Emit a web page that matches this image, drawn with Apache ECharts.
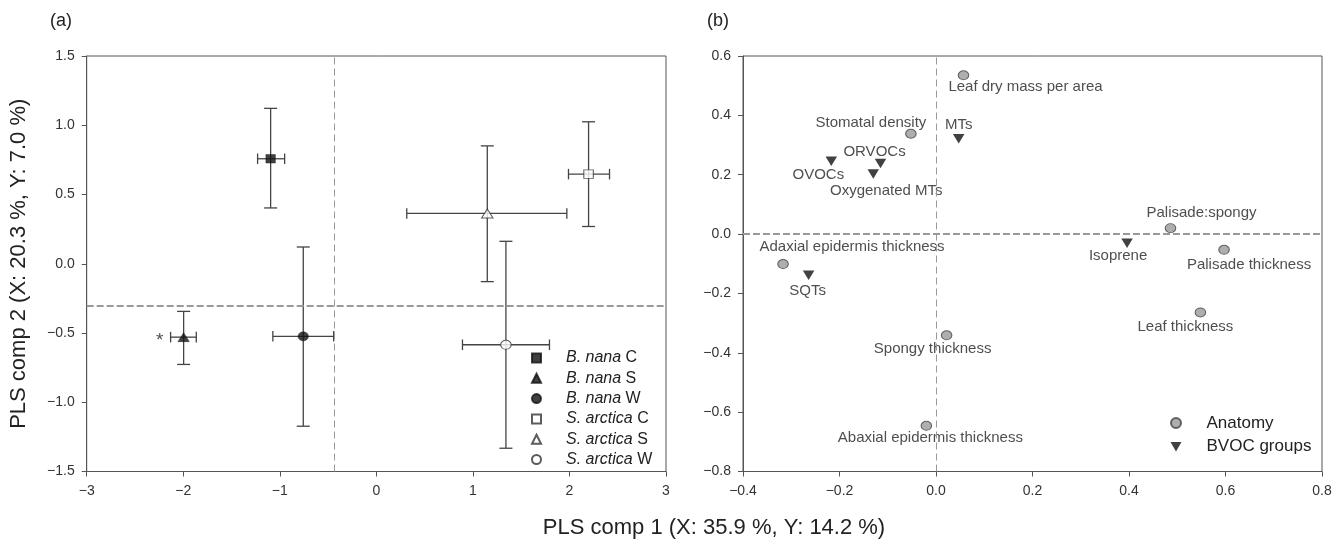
<!DOCTYPE html>
<html>
<head>
<meta charset="utf-8">
<script src="https://cdn.jsdelivr.net/npm/echarts@6/dist/echarts.min.js"></script>
<style>
  html, body { margin: 0; padding: 0; background: #fff; }
  #chart { width: 1335px; height: 542px; }
</style>
</head>
<body>
<div id="chart"></div>
<script>
// ---- panel (a): PLS scores per group, with error bars ----
const groupNames = ['B. nana C', 'B. nana S', 'B. nana W', 'S. arctica C', 'S. arctica S', 'S. arctica W'];
const groupX = [-1.095, -1.996, -0.757, 2.198, 1.149, 1.342];
const groupY = [0.758, -0.53, -0.524, 0.647, 0.363, -0.585];
const groupXLow = [-1.23, -2.131, -1.072, 1.99, 0.315, 0.892];
const groupXHigh = [-0.95, -1.865, -0.442, 2.415, 1.973, 1.793];
const groupYLow = [0.403, -0.727, -1.173, 0.269, -0.129, -1.332];
const groupYHigh = [1.122, -0.344, 0.121, 1.025, 0.851, 0.162];
const refLinesA = [-0.44, -0.3]; // x, y

// ---- panel (b): PLS loadings ----
const anatomyNames = ['Leaf dry mass per area', 'Stomatal density', 'Palisade:spongy', 'Palisade thickness',
  'Adaxial epidermis thickness', 'Leaf thickness', 'Spongy thickness', 'Abaxial epidermis thickness'];
const anatomyX = [0.057, -0.052, 0.486, 0.597, -0.317, 0.548, 0.022, -0.020];
const anatomyY = [0.535, 0.338, 0.020, -0.053, -0.101, -0.264, -0.341, -0.646];
const bvocNames = ['MTs', 'ORVOCs', 'OVOCs', 'Oxygenated MTs', 'Isoprene', 'SQTs'];
const bvocX = [0.047, -0.115, -0.217, -0.130, 0.396, -0.264];
const bvocY = [0.321, 0.238, 0.245, 0.202, -0.031, -0.139];
const refLinesB = [0, 0];

// tick labels
const xTicksA = [-3, -2, -1, 0, 1, 2, 3];
const yTicksA = [-1.5, -1.0, -0.5, 0.0, 0.5, 1.0, 1.5];
const xTicksB = [-0.4, -0.2, 0.0, 0.2, 0.4, 0.6, 0.8];
const yTicksB = [-0.8, -0.6, -0.4, -0.2, 0.0, 0.2, 0.4, 0.6];

// label placement next to each loading point (px offsets from the point)
const labelOffsets = {
  'Leaf dry mass per area': [62, 12],
  'Stomatal density': [-40, -11],
  'Palisade:spongy': [31, -15],
  'Palisade thickness': [25, 15],
  'Adaxial epidermis thickness': [69, -17],
  'Leaf thickness': [-15, 14],
  'Spongy thickness': [-14, 14],
  'Abaxial epidermis thickness': [4, 12],
  'MTs': [0, -14],
  'ORVOCs': [-6, -12],
  'OVOCs': [-13, 14],
  'Oxygenated MTs': [13, 17],
  'Isoprene': [-9, 13],
  'SQTs': [-1, 16]
};

const FONT = "'Liberation Sans', Arial, sans-serif";
const DOWN_TRI = 'path://M0,0L10,0L5,8.5Z';
const groupSymbols = ['rect', 'triangle', 'circle', 'rect', 'triangle', 'circle'];
const groupSizes = [[9.5, 8.5], [11.5, 9], [10.5, 9], [9.5, 8.5], [11.5, 9], [10.5, 9]];

const fmt = (d) => (v) => v.toFixed(d).replace('-', '\u2212');

function axisCommon(ticks, d, idx, isY) {
  return {
    type: 'value',
    gridIndex: idx,
    min: ticks[0],
    max: ticks[ticks.length - 1],
    interval: +(ticks[1] - ticks[0]).toFixed(2),
    axisLine: { show: true, onZero: false, lineStyle: { color: '#555', width: 1 } },
    axisTick: { show: true, inside: false, length: 5, lineStyle: { color: '#555' } },
    splitLine: { show: false },
    axisLabel: {
      margin: isY ? 12 : 13,
      fontSize: 14,
      color: '#333',
      fontFamily: FONT,
      formatter: fmt(d)
    }
  };
}

const errData = groupNames.map((n, i) => [groupX[i], groupY[i], groupXLow[i], groupXHigh[i], groupYLow[i], groupYHigh[i]]);

const dashV = { color: '#999', width: 1, type: [7, 4] };
const dashH = { color: '#999', width: 2, type: [7, 3] };

const series = [];

series.push({
  type: 'custom',
  name: 'errors',
  xAxisIndex: 0,
  yAxisIndex: 0,
  data: errData,
  encode: { x: [0, 2, 3], y: [1, 4, 5] },
  z: 1,
  silent: true,
  renderItem: function (params, api) {
    const xl = api.coord([api.value(2), api.value(1)]);
    const xh = api.coord([api.value(3), api.value(1)]);
    const yl = api.coord([api.value(0), api.value(4)]);
    const yh = api.coord([api.value(0), api.value(5)]);
    const style = { stroke: '#444', lineWidth: 1.3 };
    const cw = 6.5, ch = 5.3;
    return {
      type: 'group',
      children: [
        { type: 'line', shape: { x1: yl[0], y1: yl[1], x2: yh[0], y2: yh[1] }, style },
        { type: 'line', shape: { x1: yl[0] - cw, y1: yl[1], x2: yl[0] + cw, y2: yl[1] }, style },
        { type: 'line', shape: { x1: yh[0] - cw, y1: yh[1], x2: yh[0] + cw, y2: yh[1] }, style },
        { type: 'line', shape: { x1: xl[0], y1: xl[1], x2: xh[0], y2: xh[1] }, style },
        { type: 'line', shape: { x1: xl[0], y1: xl[1] - ch, x2: xl[0], y2: xl[1] + ch }, style },
        { type: 'line', shape: { x1: xh[0], y1: xh[1] - ch, x2: xh[0], y2: xh[1] + ch }, style }
      ]
    };
  },
  markLine: {
    silent: true,
    symbol: ['none', 'none'],
    label: { show: false },
    data: [
      { xAxis: refLinesA[0], lineStyle: dashV },
      { yAxis: refLinesA[1], lineStyle: dashH }
    ]
  }
});

groupNames.forEach((name, i) => {
  const open = name.charAt(0) === 'S';
  const s = {
    type: 'scatter',
    name: name,
    xAxisIndex: 0,
    yAxisIndex: 0,
    z: 3,
    symbol: groupSymbols[i],
    symbolSize: groupSizes[i],
    itemStyle: open
      ? { color: '#fff', borderColor: '#333', borderWidth: 1 }
      : { color: '#111', borderColor: '#111', borderWidth: 0.5 },
    data: [[groupX[i], groupY[i]]]
  };
  if (name === 'B. nana S') {
    s.label = {
      show: true, position: 'inside', offset: [-24, 4], formatter: '*',
      fontSize: 19, color: '#222', fontFamily: FONT
    };
  }
  series.push(s);
});

series.push({
  type: 'scatter',
  name: 'Anatomy',
  xAxisIndex: 1,
  yAxisIndex: 1,
  z: 3,
  symbol: 'circle',
  symbolSize: [10.5, 9],
  itemStyle: { color: '#9a9a9a', borderColor: '#444', borderWidth: 1 },
  data: anatomyNames.map((n, i) => ({
    name: n,
    value: [anatomyX[i], anatomyY[i]],
    label: { offset: labelOffsets[n] }
  })),
  label: {
    show: true, position: 'inside', formatter: '{b}',
    fontSize: 15, color: '#222', fontFamily: FONT
  },
  markLine: {
    silent: true,
    symbol: ['none', 'none'],
    label: { show: false },
    data: [
      { xAxis: refLinesB[0], lineStyle: dashV },
      { yAxis: refLinesB[1], lineStyle: dashH }
    ]
  }
});

series.push({
  type: 'scatter',
  name: 'BVOC groups',
  xAxisIndex: 1,
  yAxisIndex: 1,
  z: 3,
  symbol: DOWN_TRI,
  symbolSize: [11.5, 9.5],
  itemStyle: { color: '#111' },
  data: bvocNames.map((n, i) => ({
    name: n,
    value: [bvocX[i], bvocY[i]],
    label: { offset: labelOffsets[n] }
  })),
  label: {
    show: true, position: 'inside', formatter: '{b}',
    fontSize: 15, color: '#222', fontFamily: FONT
  }
});

const option = {
  animation: false,
  backgroundColor: '#fff',
  textStyle: { fontFamily: FONT },
  title: [
    { text: '(a)', left: 50, top: 12, padding: 0, textStyle: { fontSize: 18, fontWeight: 'normal', color: '#222', fontFamily: FONT } },
    { text: '(b)', left: 707, top: 12, padding: 0, textStyle: { fontSize: 18, fontWeight: 'normal', color: '#222', fontFamily: FONT } },
    { text: 'PLS comp 1 (X: 35.9 %, Y: 14.2 %)', left: 714, textAlign: 'center', top: 517, padding: 0,
      textStyle: { fontSize: 22, fontWeight: 'normal', color: '#222', fontFamily: FONT } }
  ],
  legend: [
    {
      data: groupNames,
      orient: 'vertical',
      left: 531,
      top: 348,
      padding: 0,
      itemWidth: 9,
      itemHeight: 9,
      itemGap: 0.3,
      selectedMode: false,
      formatter: (name) => '{i|' + name.slice(0, -2) + '} ' + name.slice(-1),
      textStyle: {
        fontSize: 16, color: '#222', lineHeight: 20, padding: [0, 0, 0, 20], fontFamily: FONT,
        rich: { i: { fontStyle: 'italic', fontSize: 16, color: '#222', fontFamily: FONT } }
      }
    },
    {
      data: ['Anatomy', { name: 'BVOC groups', icon: DOWN_TRI }],
      orient: 'vertical',
      left: 1170,
      top: 412,
      padding: 0,
      itemWidth: 11,
      itemHeight: 10,
      itemGap: 1.7,
      selectedMode: false,
      textStyle: { fontSize: 17, color: '#222', lineHeight: 22, padding: [0, 0, 0, 20], fontFamily: FONT }
    }
  ],
  grid: [
    { left: 86.7, top: 56, width: 579.3, height: 415.5, show: true, borderColor: '#555', borderWidth: 1, backgroundColor: 'transparent' },
    { left: 743, top: 56, width: 579, height: 415.5, show: true, borderColor: '#555', borderWidth: 1, backgroundColor: 'transparent' }
  ],
  xAxis: [
    axisCommon(xTicksA, 0, 0, false),
    axisCommon(xTicksB, 1, 1, false)
  ],
  yAxis: [
    Object.assign(axisCommon(yTicksA, 1, 0, true), {
      name: 'PLS comp 2 (X: 20.3 %, Y: 7.0 %)',
      nameLocation: 'middle',
      nameGap: 57,
      nameTextStyle: { fontSize: 22, color: '#222', fontFamily: FONT }
    }),
    axisCommon(yTicksB, 1, 1, true)
  ],
  series: series
};

const myChart = echarts.init(document.getElementById('chart'), null, { renderer: 'canvas' });
myChart.setOption(option);
</script>
</body>
</html>
